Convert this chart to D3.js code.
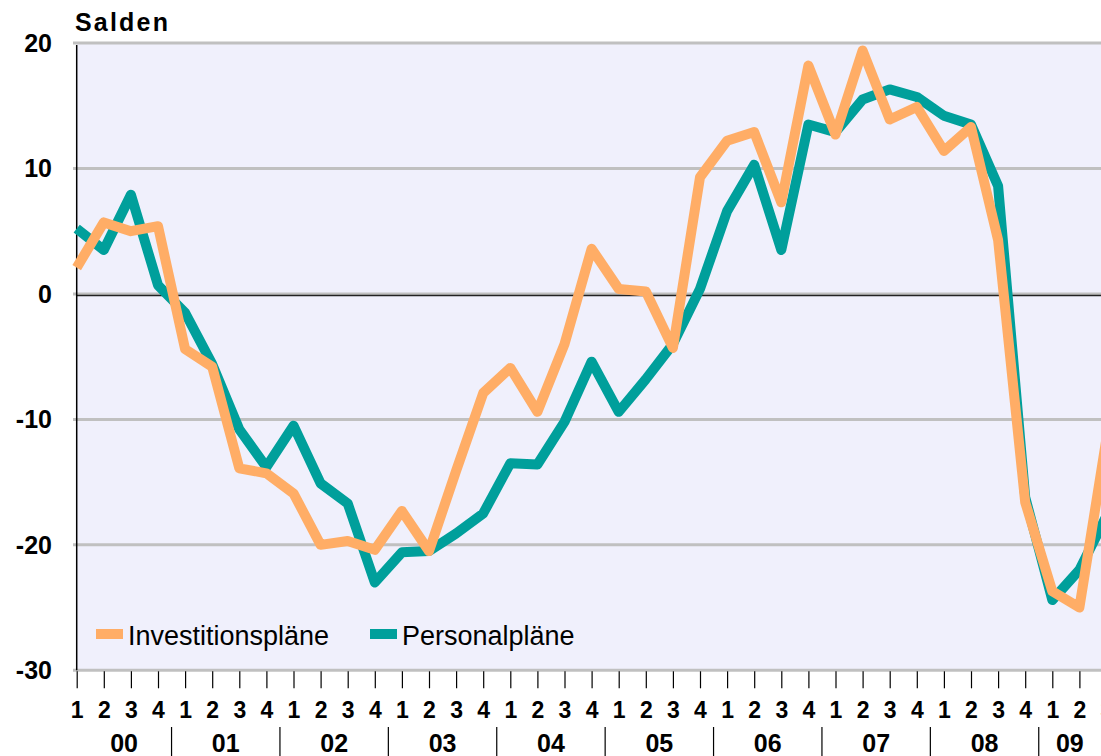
<!DOCTYPE html>
<html><head><meta charset="utf-8">
<script src="https://cdn.jsdelivr.net/npm/d3@7"></script>
<style>body{margin:0;background:#fff}svg{display:block;font-family:"Liberation Sans",Arial,sans-serif}</style>
</head><body><svg id="c" width="1101" height="756"></svg>
<script>
const years = ["00","01","02","03","04","05","06","07","08","09"];
const quarters = ["1","2","3","4"];
const yTicks = [20,10,0,-10,-20,-30];
const investitionsplaene = [2.1,5.7,5.0,5.4,-4.4,-5.8,-13.9,-14.3,-15.9,-20.0,-19.7,-20.4,-17.3,-20.5,-14.1,-7.9,-5.9,-9.4,-4.0,3.6,0.4,0.2,-4.3,9.3,12.2,12.9,7.3,18.2,12.7,19.4,13.9,14.9,11.4,13.3,4.3,-16.6,-23.7,-25.0,-11.5];
const personalplaene = [5.2,3.5,7.9,0.7,-1.5,-5.6,-10.8,-13.8,-10.5,-15.1,-16.7,-23.0,-20.6,-20.5,-19.1,-17.5,-13.5,-13.6,-10.2,-5.4,-9.4,-6.8,-4.0,0.4,6.6,10.3,3.5,13.5,12.9,15.5,16.3,15.7,14.2,13.5,8.6,-16.2,-24.4,-22.0,-17.7];
const seriesNames = ["Investitionspläne","Personalpläne"];

const n = investitionsplaene.length;
const periods = [];
for (let i = 0; i < n; i++) periods.push(years[Math.floor(i/4)] + "Q" + quarters[i%4]);

const svg = d3.select("#c");
const W = 1101, H = 756;
const x = d3.scalePoint().domain(periods).range([76.7, 76.7 + 27.1*(n-1)]);
const y = d3.scaleLinear().domain([-30,20]).range([670.3, 43]);
const step = x.step();

// plot background
svg.append("rect").attr("x",76.7).attr("y",y(20)).attr("width",W-76.7).attr("height",y(-30)-y(20)).attr("fill","#F0F0FC");

// gridlines
svg.append("g").selectAll("line").data(yTicks).join("line")
  .attr("x1",73).attr("x2",W).attr("y1",d=>y(d)).attr("y2",d=>y(d))
  .attr("stroke","#C0C0C0").attr("stroke-width",3);

// zero line
svg.append("line").attr("x1",76.7).attr("x2",W).attr("y1",y(0)+1.6).attr("y2",y(0)+1.6).attr("stroke","#222").attr("stroke-width",1.3);

// left axis line
svg.append("line").attr("x1",76.7).attr("x2",76.7).attr("y1",y(20)+2).attr("y2",y(-30)).attr("stroke","#000").attr("stroke-width",1.5);

// y labels
svg.append("g").selectAll("text").data(yTicks).join("text")
  .attr("x",52).attr("y",d=>y(d)).attr("dy","0.36em").attr("text-anchor","end")
  .attr("font-size",25).attr("font-weight","bold").text(d=>d);

// title
svg.append("text").attr("x",75).attr("y",31).attr("font-size",25).attr("font-weight","bold").attr("letter-spacing",2.2).text("Salden");

// x axis ticks via d3 axis
const xAxis = d3.axisBottom(x).tickSize(17).tickFormat(d=>d.slice(3));
const gx = svg.append("g").attr("transform",`translate(0,${y(-30)+1})`).call(xAxis);
gx.select(".domain").remove();
gx.selectAll(".tick line").attr("stroke","#000").attr("stroke-width",1.2);
gx.selectAll(".tick text").attr("y",47).attr("dy",0).attr("font-size",23).attr("font-weight","bold").attr("fill","#000").attr("font-family","Liberation Sans, Arial, sans-serif");

// year separators and labels
const sepX = d => x(d+"Q1")-step/2;
svg.append("g").selectAll("line").data(years.slice(1)).join("line")
  .attr("x1",sepX).attr("x2",sepX)
  .attr("y1",727).attr("y2",756).attr("stroke","#000").attr("stroke-width",1.2);
svg.append("g").selectAll("text").data(years).join("text")
  .attr("x",d=>{const a=Math.max(76.7,sepX(d)); const b=Math.min(W, sepX(d)+4*step); return (a+b)/2;})
  .attr("y",752).attr("text-anchor","middle")
  .attr("font-size",25).attr("font-weight","bold").text(d=>d);

// lines
const line = d3.line().x((d,i)=>x(periods[i])).y(d=>y(d));
const colors = {"Investitionspläne":"#FFAD66","Personalpläne":"#009F9B"};
svg.append("path").datum(personalplaene).attr("d",line).attr("fill","none")
  .attr("stroke",colors["Personalpläne"]).attr("stroke-width",10).attr("stroke-linejoin","round");
svg.append("path").datum(investitionsplaene).attr("d",line).attr("fill","none")
  .attr("stroke",colors["Investitionspläne"]).attr("stroke-width",10).attr("stroke-linejoin","round");

// legend
const legX = [96, 370];
seriesNames.forEach((s,k)=>{
  svg.append("rect").attr("x",legX[k]).attr("y",629).attr("width",27).attr("height",10).attr("fill",colors[s]);
  svg.append("text").attr("x",legX[k]+32).attr("y",645).attr("font-size",27).attr("fill","#000").text(s);
});
</script></body></html>
